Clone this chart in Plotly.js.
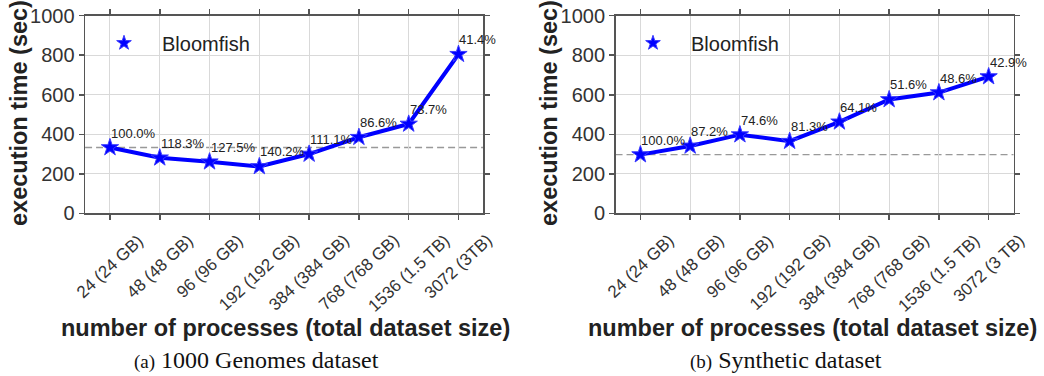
<!DOCTYPE html>
<html>
<head>
<meta charset="utf-8">
<script src="https://cdn.plot.ly/plotly-3.0.1.min.js"></script>
<style>html,body{margin:0;padding:0;background:#fff;}#chart{width:1044px;height:376px;}</style>
</head>
<body>
<div id="chart"></div>
<script>
// ---- data ----
const seriesName = "Bloomfish";
const catsA = ["24 (24 GB)", "48 (48 GB)", "96 (96 GB)", "192 (192 GB)", "384 (384 GB)", "768 (768 GB)", "1536 (1.5 TB)", "3072 (3TB)"];
const catsB = ["24 (24 GB)", "48 (48 GB)", "96 (96 GB)", "192 (192 GB)", "384 (384 GB)", "768 (768 GB)", "1536 (1.5 TB)", "3072 (3 TB)"];
const timesA = [333, 281, 261, 237, 300, 385, 452, 805];
const timesB = [297, 341, 398, 365, 463, 576, 611, 692];
const effA = ["100.0%", "118.3%", "127.5%", "140.2%", "111.1%", "86.6%", "73.7%", "41.4%"];
const effB = ["100.0%", "87.2%", "74.6%", "81.3%", "64.1%", "51.6%", "48.6%", "42.9%"];
const yTicks = [0, 200, 400, 600, 800, 1000];
const xTitle = "number of processes (total dataset size)";
const yTitle = "execution time (sec)";
const captionA = "<span style='font-size:19px'>(a)</span> 1000 Genomes dataset";
const captionB = "<span style='font-size:19px'>(b)</span> Synthetic dataset";

const blue = "#0000ff";
const idx = catsA.map((_, i) => i);

function lineTrace(vals, xa, ya) {
  return {
    x: idx, y: vals, xaxis: xa, yaxis: ya, type: "scatter", mode: "lines+markers",
    line: {color: blue, width: 4},
    marker: {symbol: "star", size: 13, color: blue, line: {color: "#3a3aff", width: 1}},
    showlegend: false, hoverinfo: "skip"
  };
}
function legendTrace(xa, ya, lg) {
  return {
    x: [null], y: [null], xaxis: xa, yaxis: ya, type: "scatter", mode: "markers",
    name: seriesName, legend: lg,
    marker: {symbol: "star", size: 11, color: blue, line: {color: "#3a3aff", width: 1}},
    showlegend: true
  };
}

const data = [
  lineTrace(timesA, "x", "y"), legendTrace("x", "y", "legend"),
  lineTrace(timesB, "x2", "y2"), legendTrace("x2", "y2", "legend2")
];

const axisCommon = {
  showline: true, linecolor: "#555", linewidth: 1.5, mirror: "ticks",
  ticks: "outside", ticklen: 5, tickcolor: "#555", tickwidth: 1.5,
  showgrid: true, gridcolor: "#d9d9d9", gridwidth: 1, zeroline: false,
  fixedrange: true
};
function xAxis(dom) {
  return Object.assign({}, axisCommon, {
    domain: dom, range: [-0.5, 7.5], tickmode: "array", tickvals: idx,
    showticklabels: false
  });
}
function yAxis(anchor) {
  return Object.assign({}, axisCommon, {
    domain: [0.4327, 0.9582], range: [0, 1000], tickmode: "array", tickvals: yTicks,
    anchor: anchor, tickfont: {family: "Liberation Sans, Arial", size: 20, color: "#333"}
  });
}

const annotations = [];
function addLabels(vals, labels, xa, ya) {
  vals.forEach((v, i) => annotations.push({
    x: i, y: v, xref: xa, yref: ya, text: labels[i], showarrow: false,
    xanchor: "left", yanchor: "bottom", xshift: -1, yshift: 5,
    font: {family: "Liberation Sans, Arial", size: 13, color: "#222"}
  }));
}
addLabels(timesA, effA, "x", "y");
addLabels(timesB, effB, "x2", "y2");

// rotated category labels centred under each tick
function addTickLabels(cats, xa) {
  cats.forEach((c, i) => annotations.push({
    x: i, y: 1 - 228 / 376, xref: xa, yref: "paper", text: c, showarrow: false,
    textangle: -43, xanchor: "center", yanchor: "top",
    font: {family: "Liberation Sans, Arial", size: 17, color: "#333"}
  }));
}
addTickLabels(catsA, "x");
addTickLabels(catsB, "x2");

const titleFont = {family: "Liberation Sans, Arial", size: 23.5, color: "#222", weight: "bold"};
const captionFont = {family: "Liberation Serif, Times New Roman", size: 24, color: "#111"};
const paperAnns = [
  {x: 285, y: 328, text: "<b>" + xTitle + "</b>", font: titleFont},
  {x: 812, y: 328, text: "<b>" + xTitle + "</b>", font: titleFont},
  {x: 19, y: 113, text: "<b>" + yTitle + "</b>", textangle: -90, font: titleFont},
  {x: 549, y: 113, text: "<b>" + yTitle + "</b>", textangle: -90, font: titleFont},
  {x: 256, y: 360, text: captionA, font: captionFont},
  {x: 786, y: 360, text: captionB, font: captionFont}
];
paperAnns.forEach(a => annotations.push(Object.assign({
  xref: "paper", yref: "paper", showarrow: false, xanchor: "center", yanchor: "middle"
}, a, {x: a.x / 1044, y: 1 - a.y / 376})));

const shapes = [
  {type: "line", xref: "x domain", yref: "y", x0: 0, x1: 1, y0: timesA[0], y1: timesA[0], line: {color: "#999", width: 1.3, dash: "7px,4px"}, layer: "below"},
  {type: "line", xref: "x2 domain", yref: "y2", x0: 0, x1: 1, y0: timesB[0], y1: timesB[0], line: {color: "#999", width: 1.3, dash: "7px,4px"}, layer: "below"}
];

const legendCommon = {
  yanchor: "middle", xanchor: "left", bgcolor: "rgba(0,0,0,0)", borderwidth: 0,
  itemwidth: 66,
  font: {family: "Liberation Sans, Arial", size: 20, color: "#222"}
};

const layout = {
  width: 1044, height: 376,
  margin: {l: 0, r: 0, t: 0, b: 0},
  paper_bgcolor: "#fff", plot_bgcolor: "#fff",
  xaxis: Object.assign(xAxis([0.0815, 0.4630]), {anchor: "y"}),
  yaxis: yAxis("x"),
  xaxis2: Object.assign(xAxis([0.5896, 0.9708]), {anchor: "y2"}),
  yaxis2: yAxis("x2"),
  legend: Object.assign({}, legendCommon, {x: 86 / 1044, y: 1 - 43 / 376}),
  legend2: Object.assign({}, legendCommon, {x: 615 / 1044, y: 1 - 43 / 376}),
  annotations: annotations,
  shapes: shapes,
  showlegend: true
};

Plotly.newPlot("chart", data, layout, {displayModeBar: false, staticPlot: true});
</script>
</body>
</html>
